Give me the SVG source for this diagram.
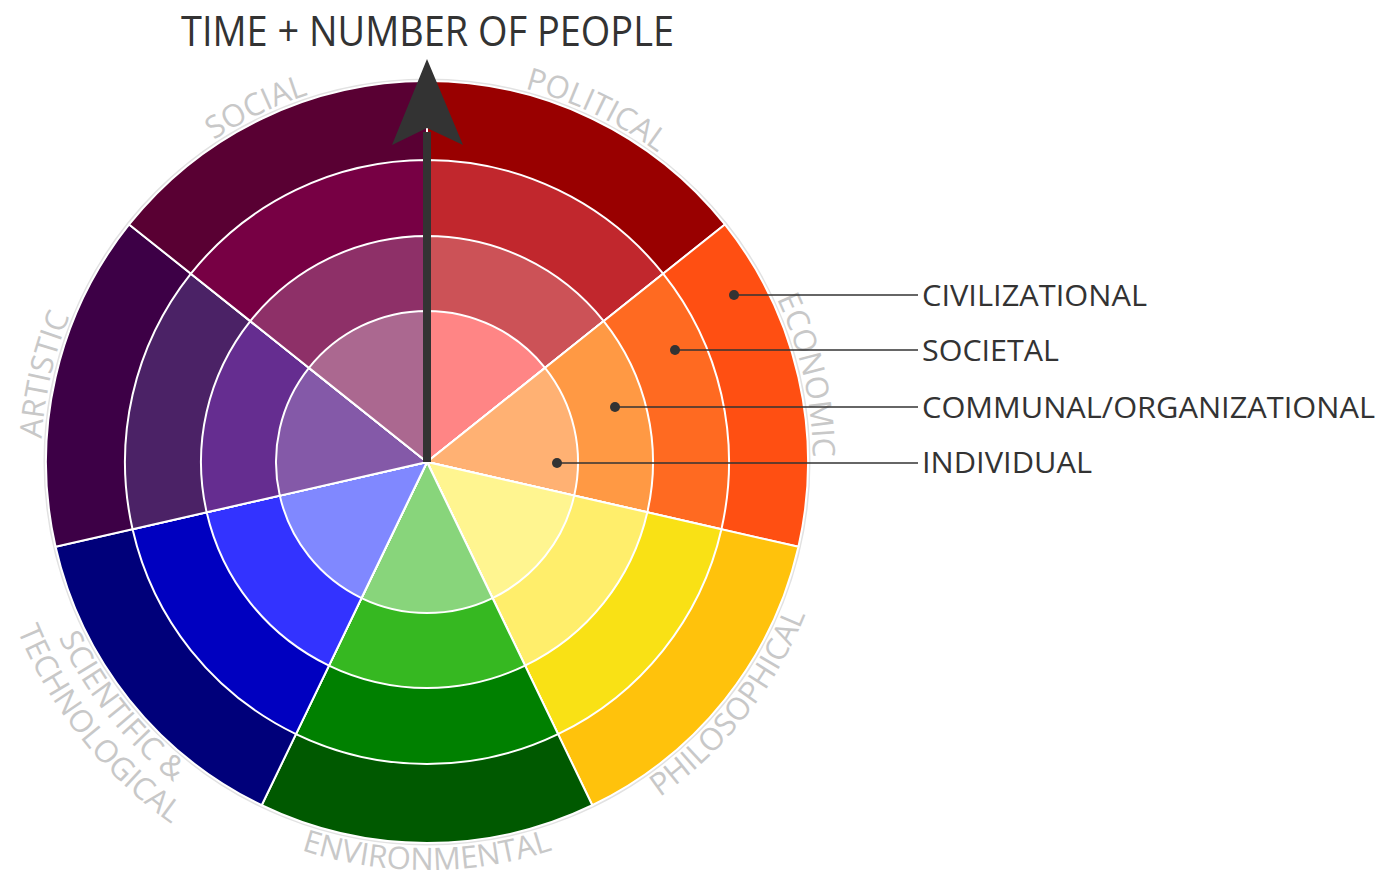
<svg xmlns="http://www.w3.org/2000/svg" width="1393" height="877" viewBox="0 0 1393 877">
<style>
.seg{stroke:#fff;stroke-width:2;stroke-linejoin:round}
.lbl{font-family:"Open Sans","Liberation Sans",sans-serif;font-size:31px;fill:#c8c8c8}
.leg{font-family:"Open Sans","Liberation Sans",sans-serif;font-size:30px;fill:#333}
.title{font-family:"Open Sans","Liberation Sans",sans-serif;font-size:42px;fill:#333}
.lead{stroke:#333;stroke-width:1.6;fill:none}
.dot{fill:#333}
</style>
<defs>
<path id="w4" d="M0,0 L0,-381 A381,381 0 0 1 297.88,-237.55 Z"/>
<path id="w3" d="M0,0 L0,-302 A302,302 0 0 1 236.11,-188.29 Z"/>
<path id="w2" d="M0,0 L0,-226 A226,226 0 0 1 176.69,-140.91 Z"/>
<path id="w1" d="M0,0 L0,-151 A151,151 0 0 1 118.06,-94.15 Z"/>
<path id="tp-pol" d="M331.74,87.92 A386,386 0 0 1 778.84,303.20"/>
<path id="tp-eco" d="M660.0,154.3 A386,386 0 0 1 770.5,638.1"/>
<path id="tp-phi" d="M507.87,861.9 A408,408 0 0 0 834.88,451.82"/>
<path id="tp-env" d="M164.7,774.5 A408,408 0 0 0 689.3,774.5"/>
<path id="tp-sci" d="M19.13,451.82 A408,408 0 0 0 346.13,861.9"/>
<path id="tp-tec" d="M-15.86,450.95 A443,443 0 0 0 339.2,896.2"/>
<path id="tp-art" d="M83.5,638.1 A386,386 0 0 1 194.0,154.3"/>
<path id="tp-soc" d="M75.16,303.20 A386,386 0 0 1 522.26,87.92"/>
</defs>
<rect width="1393" height="877" fill="#fff"/>
<circle cx="427" cy="462" r="382" fill="none" stroke="#e2e2e2" stroke-width="3"/>

<g id="political" transform="translate(427,462) rotate(0)">
<use href="#w4" class="seg" fill="#990000"/><use href="#w3" class="seg" fill="#C1272D"/><use href="#w2" class="seg" fill="#CC5257"/><use href="#w1" class="seg" fill="#FF8585"/>
</g>
<g id="economic" transform="translate(427,462) rotate(51.4286)">
<use href="#w4" class="seg" fill="#FF4F12"/><use href="#w3" class="seg" fill="#FF6A21"/><use href="#w2" class="seg" fill="#FF9944"/><use href="#w1" class="seg" fill="#FFB173"/>
</g>
<g id="philosophical" transform="translate(427,462) rotate(102.8571)">
<use href="#w4" class="seg" fill="#FFC20C"/><use href="#w3" class="seg" fill="#F9E115"/><use href="#w2" class="seg" fill="#FFEE6B"/><use href="#w1" class="seg" fill="#FFF590"/>
</g>
<g id="environmental" transform="translate(427,462) rotate(154.2857)">
<use href="#w4" class="seg" fill="#005900"/><use href="#w3" class="seg" fill="#008000"/><use href="#w2" class="seg" fill="#36B821"/><use href="#w1" class="seg" fill="#88D57B"/>
</g>
<g id="scientific" transform="translate(427,462) rotate(205.7143)">
<use href="#w4" class="seg" fill="#00007A"/><use href="#w3" class="seg" fill="#0000C0"/><use href="#w2" class="seg" fill="#3333FF"/><use href="#w1" class="seg" fill="#8088FF"/>
</g>
<g id="artistic" transform="translate(427,462) rotate(257.1429)">
<use href="#w4" class="seg" fill="#3D0046"/><use href="#w3" class="seg" fill="#4B2266"/><use href="#w2" class="seg" fill="#652D90"/><use href="#w1" class="seg" fill="#8459A8"/>
</g>
<g id="social" transform="translate(427,462) rotate(308.5714)">
<use href="#w4" class="seg" fill="#590033"/><use href="#w3" class="seg" fill="#770044"/><use href="#w2" class="seg" fill="#8E3068"/><use href="#w1" class="seg" fill="#AB6890"/>
</g>

<g id="sector-labels">
<text class="lbl"><textPath href="#tp-pol" startOffset="50%" text-anchor="middle">POLITICAL</textPath></text>
<text class="lbl"><textPath href="#tp-eco" startOffset="50%" text-anchor="middle">ECONOMIC</textPath></text>
<text class="lbl"><textPath href="#tp-phi" startOffset="50%" text-anchor="middle">PHILOSOPHICAL</textPath></text>
<text class="lbl"><textPath href="#tp-env" startOffset="50%" text-anchor="middle">ENVIRONMENTAL</textPath></text>
<text class="lbl"><textPath href="#tp-sci" startOffset="50%" text-anchor="middle">SCIENTIFIC &amp;</textPath></text>
<text class="lbl"><textPath href="#tp-tec" startOffset="50%" text-anchor="middle">TECHNOLOGICAL</textPath></text>
<text class="lbl"><textPath href="#tp-art" startOffset="50%" text-anchor="middle">ARTISTIC</textPath></text>
<text class="lbl"><textPath href="#tp-soc" startOffset="50%" text-anchor="middle">SOCIAL</textPath></text>
</g>

<g id="arrow">
<line x1="427" y1="462" x2="427" y2="132" stroke="#333" stroke-width="8"/>
<polygon points="427,59 392,145 427,128 463,145" fill="#333"/>
</g>
<text id="title" class="title" x="181" y="46" textLength="493" lengthAdjust="spacingAndGlyphs">TIME + NUMBER OF PEOPLE</text>

<g id="connectors">
<line class="lead" x1="734" y1="295" x2="918" y2="295"/>
<line class="lead" x1="675" y1="350" x2="918" y2="350"/>
<line class="lead" x1="615" y1="407" x2="918" y2="407"/>
<line class="lead" x1="557" y1="463" x2="918" y2="463"/>
<circle class="dot" cx="734" cy="295" r="5"/>
<circle class="dot" cx="675" cy="350" r="5"/>
<circle class="dot" cx="615" cy="407" r="5"/>
<circle class="dot" cx="557" cy="463" r="5"/>
</g>
<g id="legend">
<text class="leg" x="922" y="306" textLength="225" lengthAdjust="spacingAndGlyphs">CIVILIZATIONAL</text>
<text class="leg" x="922" y="361" textLength="137" lengthAdjust="spacingAndGlyphs">SOCIETAL</text>
<text class="leg" x="922" y="418" textLength="453" lengthAdjust="spacingAndGlyphs">COMMUNAL/ORGANIZATIONAL</text>
<text class="leg" x="922" y="473" textLength="170" lengthAdjust="spacingAndGlyphs">INDIVIDUAL</text>
</g>
</svg>
